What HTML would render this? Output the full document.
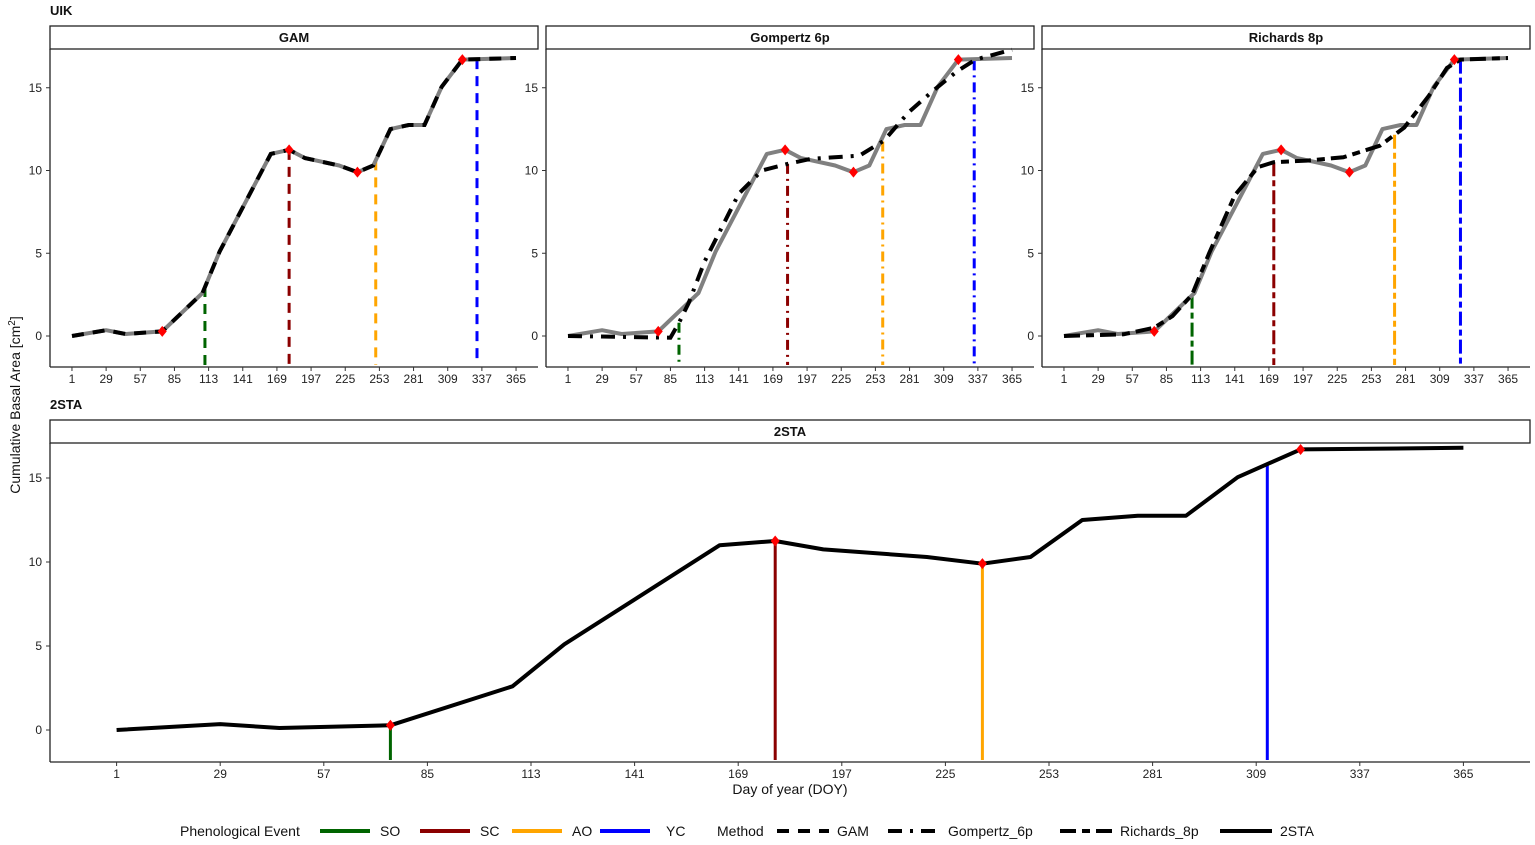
<!DOCTYPE html>
<html><head><meta charset="utf-8">
<style>
html,body{margin:0;padding:0;background:#fff;}
svg{display:block;font-family:"Liberation Sans",sans-serif;}
</style></head>
<body>
<svg id="chart" width="1535" height="845" viewBox="0 0 1535 845"></svg>
<script>
const xTicks = [1,29,57,85,113,141,169,197,225,253,281,309,337,365];
const yTicks = [0,5,10,15];
const obsDays = [1,29,45,75,108,122,164,179,192,220,235,248,262,277,290,304,321,365];
const obsVals = [0,0.35,0.12,0.28,2.6,5.1,11.0,11.25,10.75,10.3,9.9,10.3,12.5,12.75,12.75,15.05,16.7,16.8];
const gompDays = [1,40,85,92,100,113,141,160,181,200,240,260,280,300,320,335,365];
const gompVals = [0,-0.05,-0.1,0.8,2,4.5,8.6,10,10.4,10.7,10.9,11.8,13.5,14.8,16,16.7,17.3];
const richDays = [1,50,75,90,106,120,141,160,173,200,230,260,280,300,315,326,365];
const richVals = [0,0.1,0.5,1.2,2.5,5,8.5,10.2,10.5,10.6,10.8,11.5,12.6,14.5,16.2,16.7,16.8];
const keyDays = [75,179,235,321];
const eventNames = ['SO','SC','AO','YC'];
const eventColors = ['#006400','#8B0000','#FFA500','#0000FF'];
const gamEvents = [110,179,250,333];
const gompEvents = [92,181,259,334];
const richEvents = [106,173,272,326];
const staEvents = [75,179,235,312];

const NS='http://www.w3.org/2000/svg';
const svg=document.getElementById('chart');
function mk(tag,attrs,parent){const e=document.createElementNS(NS,tag);for(const k in attrs)e.setAttribute(k,attrs[k]);(parent||svg).appendChild(e);return e;}
function interp(ds,vs,d){for(let i=0;i<ds.length-1;i++){if(d>=ds[i]&&d<=ds[i+1]){return vs[i]+(vs[i+1]-vs[i])*(d-ds[i])/(ds[i+1]-ds[i]);}}return vs[vs.length-1];}

function panel(cfg){
  const g=mk('g',{});
  
  
  const L=cfg.x0,R=cfg.x1,T=cfg.y0,B=cfg.y1;
  const pad=(R-L)*0.045;
  const xs=d=>L+pad+(d-1)*(R-L-2*pad)/364;
  const ys=v=>cfg.zeroY-v*cfg.unit;
  const st=mk('rect',{x:L,y:T-23,width:R-L,height:23,fill:'#fff',stroke:'#222','stroke-width':1.3},g);
  
  
  const stt=mk('text',{x:(L+R)/2,y:T-7,'text-anchor':'middle','font-size':13,'font-weight':'bold',fill:'#111'},g);
  stt.textContent=cfg.title;
  
  
  mk('line',{x1:L,y1:T,x2:L,y2:B,stroke:'#222','stroke-width':1.3},g);
  mk('line',{x1:L,y1:B,x2:R,y2:B,stroke:'#222','stroke-width':1.3},g);
  xTicks.forEach(t=>{
    mk('line',{x1:xs(t),y1:B,x2:xs(t),y2:B+4,stroke:'#333'},g);
    const tx=mk('text',{x:xs(t),y:B+16,'text-anchor':'middle','font-size':12,fill:'#222'},g);
    tx.textContent=t;
    
    
  });
  yTicks.forEach(t=>{
    mk('line',{x1:L-4,y1:ys(t),x2:L,y2:ys(t),stroke:'#333'},g);
    const tx=mk('text',{x:L-8,y:ys(t)+4,'text-anchor':'end','font-size':12,fill:'#222'},g);
    tx.textContent=t;
    
    
  });
  cfg.events.forEach((d,i)=>{
    const top=ys(interp(cfg.evDays,cfg.evVals,d));
    const ln=mk('line',{x1:xs(d),y1:top,x2:xs(d),y2:B-2,stroke:eventColors[i],'stroke-width':3,'stroke-dasharray':cfg.evDash},g);
    
    
  });
  const path=(ds,vs)=>ds.map((d,i)=>(i?'L':'M')+xs(d).toFixed(1)+','+ys(vs[i]).toFixed(1)).join(' ');
  if(cfg.obsGray){
    const p=mk('path',{d:path(obsDays,obsVals),fill:'none',stroke:'#808080','stroke-width':4,'stroke-linejoin':'round'},g);
    
    
  }
  if(cfg.fitDays){
    const p=mk('path',{d:path(cfg.fitDays,cfg.fitVals),fill:'none',stroke:'#000','stroke-width':4,'stroke-dasharray':cfg.fitDash},g);
    
    
  }
  if(cfg.solid){
    const p=mk('path',{d:path(obsDays,obsVals),fill:'none',stroke:'#000','stroke-width':4,'stroke-linejoin':'round'},g);
    
    
  }
  keyDays.forEach(d=>{
    const x=xs(d),y=ys(interp(obsDays,obsVals,d));
    const m=mk('polygon',{points:`${x},${y-5.5} ${x+4.5},${y} ${x},${y+5.5} ${x-4.5},${y}`,fill:'#ff0000'},g);
    
    
  });
}

const topCommon={y0:49,y1:367,zeroY:336,unit:16.55,obsGray:true};
panel(Object.assign({name:'gam-panel',title:'GAM',x0:50,x1:538,events:gamEvents,evDays:obsDays,evVals:obsVals,evDash:'10 7',fitDays:obsDays,fitVals:obsVals,fitDash:'12 9'},topCommon));
panel(Object.assign({name:'gompertz-panel',title:'Gompertz 6p',x0:546,x1:1034,events:gompEvents,evDays:gompDays,evVals:gompVals,evDash:'10 5 2 5',fitDays:gompDays,fitVals:gompVals,fitDash:'14 8 3 8'},topCommon));
panel(Object.assign({name:'richards-panel',title:'Richards 8p',x0:1042,x1:1530,events:richEvents,evDays:richDays,evVals:richVals,evDash:'14 4 6 4',fitDays:richDays,fitVals:richVals,fitDash:'16 6 8 6'},topCommon));
panel({name:'2sta-panel',title:'2STA',x0:50,x1:1530,y0:443,y1:762,zeroY:730,unit:16.8,events:staEvents,evDays:obsDays,evVals:obsVals,evDash:'none',solid:true});

function txt(x,y,s,attrs,name){const t=mk('text',Object.assign({x:x,y:y,fill:'#111'},attrs));t.textContent=s;return t;}
txt(50,15,'UIK',{'font-size':13,'font-weight':'bold'},'group-label-uik');
txt(50,409,'2STA',{'font-size':13,'font-weight':'bold'},'group-label-2sta');
txt(0,0,'Cumulative Basal Area [cm',{'font-size':14,transform:'translate(20,405) rotate(-90)','text-anchor':'middle'},'y-axis-title').innerHTML='Cumulative Basal Area [cm<tspan dy="-5" font-size="10">2</tspan><tspan dy="5">]</tspan>';
txt(790,794,'Day of year (DOY)',{'font-size':14,'text-anchor':'middle'},'x-axis-title');

txt(180,836,'Phenological Event',{'font-size':14},'legend-title-event');
const lx=[320,420,512,600];
eventNames.forEach((n,i)=>{
  const l=mk('line',{x1:lx[i],y1:831,x2:lx[i]+50,y2:831,stroke:eventColors[i],'stroke-width':4});
  
  
  txt(lx[i]+(i==3?66:60),836,n,{'font-size':14},'legend-label-'+n);
});
txt(717,836,'Method',{'font-size':14},'legend-title-method');
const mItems=[['GAM',777,'12 9'],['Gompertz_6p',888,'14 8 3 8'],['Richards_8p',1060,'16 6 8 6'],['2STA',1220,'none']];
mItems.forEach(m=>{
  const l=mk('line',{x1:m[1],y1:831,x2:m[1]+52,y2:831,stroke:'#000','stroke-width':4,'stroke-dasharray':m[2]});
  
  
  txt(m[1]+60,836,m[0],{'font-size':14},'legend-label-'+m[0]);
});
</script>
</body></html>
